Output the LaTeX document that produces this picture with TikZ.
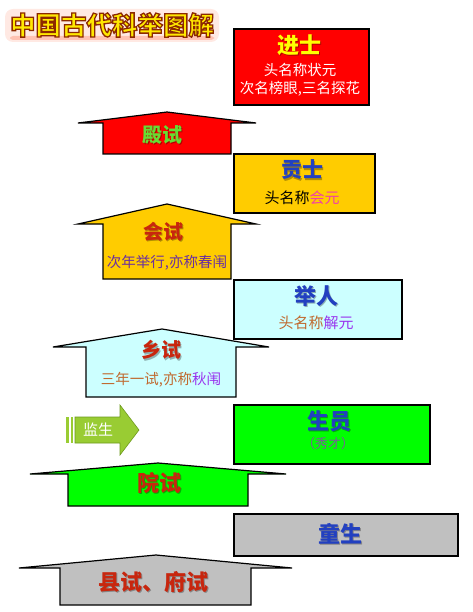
\documentclass[tikz,border=0pt]{standalone}
\usepackage{fontspec}
\setmainfont{Noto Sans CJK SC}[BoldFont={Noto Sans CJK SC Black}]
\newcommand\fs[1]{\fontsize{#1}{#1}\selectfont}
\definecolor{cred}{HTML}{FF0000}
\definecolor{cgold}{HTML}{FFCC00}
\definecolor{ccyan}{HTML}{CCFFFF}
\definecolor{cgreen}{HTML}{00FF00}
\definecolor{cgray}{HTML}{C0C0C0}
\definecolor{colive}{HTML}{99CC33}
\definecolor{colivedark}{HTML}{6E9A1E}
\definecolor{tred}{HTML}{C8260E}
\definecolor{tblue}{HTML}{2240C0}
\definecolor{tgreen}{HTML}{66DD33}
\definecolor{tyellow}{HTML}{FFFF00}
\definecolor{tpink}{HTML}{F040A8}
\definecolor{tpurple}{HTML}{6A2FA0}
\definecolor{tviolet}{HTML}{9933EE}
\definecolor{tbrown}{HTML}{C06A30}
\definecolor{tmauve}{HTML}{7A5C9A}
\definecolor{ttitle}{HTML}{FFE800}
\definecolor{tglow}{HTML}{FF5020}
\tikzset{
  box/.style={draw=black, line width=1.8pt, anchor=north west, inner sep=0pt},
  house/.style={draw=black, line width=1.2pt, line join=miter},
  hd/.style={font=\bfseries\fs{#1}, inner sep=0pt},
  sub/.style={font=\fs{#1}, inner sep=0pt}
}
% shadowed heading: name, x, y, colour, size, text
\newcommand\heading[6]{%
  \node[hd=#5, text=black, opacity=.3] at (#2+1.3,#3+1.3) {#6};
  \node[hd=#5, text=#4] (#1) at (#2,#3) {#6};
}
% house-shaped arrow: name, fill, xl, xr, yw, ax, ay, bl, br  (bottom in \yb)
\newcommand\housearrow[9]{%
  \draw[house, fill=#2] (#3,#5) -- (#6,#7) -- (#4,#5) -- (#9,#5) -- (#9,\yb) -- (#8,\yb) -- (#8,#5) -- cycle;
  \coordinate (#1) at (#6,#5);
}
% outlined text: fill colour from TikZ, stroke dark red-brown
\newcommand\outlined[1]{\special{pdf:code 2 Tr 1.3 w 0.55 0.16 0 RG}#1\special{pdf:code 0 Tr}}
\begin{document}
\begin{tikzpicture}[x=1pt,y=-1pt]
\useasboundingbox (0,0) rectangle (472,612);
\fill[white] (0,0) rectangle (472,612);

% ---------- title ----------
\fill[tglow, opacity=.12, rounded corners=8pt] (5,9) rectangle (219,42);
\fill[tglow, opacity=.25, rounded corners=3pt] (10,36) rectangle (214,40);
\node[hd=25.5, text=ttitle] (title) at (112,25) {\outlined{中国古代科举图解}};

% ---------- result boxes ----------
\node[box, fill=cred,  minimum width=135pt, minimum height=76pt] (jinshi) at (233,28) {};
\node[box, fill=cgold, minimum width=141pt, minimum height=59pt] (gongshi) at (233,153) {};
\node[box, fill=ccyan, minimum width=168pt, minimum height=59pt] (juren) at (233,279) {};
\node[box, fill=cgreen,minimum width=196pt, minimum height=59pt] (shengyuan) at (233,404) {};
\node[box, fill=cgray, minimum width=224pt, minimum height=42pt] (tongsheng) at (233,513) {};

\heading{tjinshi}{299}{45}{tyellow}{22}{进士}
\node[sub=14.5, text=white] (jinshi1) at (300,70) {头名称状元};
\node[sub=14.5, text=white] (jinshi2) at (300,89) {次名榜眼,三名探花};

\heading{tgongshi}{302}{170}{tblue}{21}{贡士}
\node[sub=15, text=black] (gongshi1) at (302,198) {头名称\textcolor{tpink}{会元}};

\heading{tjuren}{316}{296}{tblue}{22}{举人}
\node[sub=15, text=tbrown] (juren1) at (316,323) {头名称\textcolor{tviolet}{解元}};

\heading{tshengyuan}{329}{421}{tblue}{22}{生员}
\node[sub=13, text=tmauve] (shengyuan1) at (328,444) {（秀才）};

\heading{ttongsheng}{340}{534}{tblue}{22}{童生}

% ---------- examination arrows ----------
\def\yb{154}
\housearrow{dianshi}{cred}{78}{256}{123}{167}{112}{103}{231}
\def\yb{279}
\housearrow{huishi}{cgold}{78}{256}{224}{167}{204}{103}{231}
\def\yb{397}
\housearrow{xiangshi}{ccyan}{53}{269}{347}{162}{329}{86}{236}
\def\yb{506}
\housearrow{yuanshi}{cgreen}{30}{286}{474}{158}{463}{68}{248}
\def\yb{605}
\housearrow{xianshi}{cgray}{19}{292}{568}{156}{555}{60}{251}

\heading{tdianshi}{162}{135}{tgreen}{20}{殿试}
\heading{thuishi}{163}{232}{tred}{20}{会试}
\node[sub=14.5, text=tpurple] (huishi1) at (167,263) {次年举行,亦称春闱};
\heading{txiangshi}{161}{350}{tred}{20}{乡试}
\node[sub=14.5, text=tbrown] (xiangshi1) at (161,380) {三年一试,亦称\textcolor{tviolet}{秋闱}};
\heading{tyuanshi}{159}{483}{tred}{22}{院试}
\heading{txianshi}{153}{582}{tred}{22}{县试、府试}

% ---------- jiansheng arrow ----------
\fill[colive] (66,417) rectangle (68.5,443);
\fill[colive] (70.5,417) rectangle (73,443);
\draw[fill=colive, draw=colivedark, line width=0.6pt]
  (75,417) -- (120,417) -- (120,405) -- (139,430) -- (120,455) -- (120,443) -- (75,443) -- cycle;
\node[sub=15, text=white] (jiansheng) at (98,430) {监生};
\end{tikzpicture}
\end{document}
